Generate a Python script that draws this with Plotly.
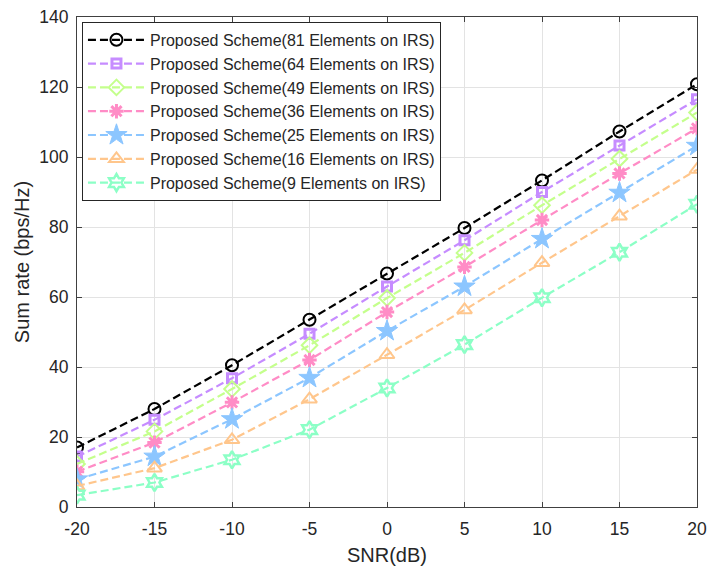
import plotly.graph_objects as go

snr = [-20, -15, -10, -5, 0, 5, 10, 15, 20]
snr_labels = ["-20", "-15", "-10", "-5", "0", "5", "10", "15", "20"]
rate_ticks = [0, 20, 40, 60, 80, 100, 120, 140]

rate_81 = [17.0, 28.0, 40.5, 53.5, 66.7, 79.7, 93.3, 107.3, 120.8]
rate_64 = [14.4, 24.9, 36.8, 49.5, 63.0, 76.2, 90.0, 103.3, 116.5]
rate_49 = [12.3, 21.6, 33.7, 46.2, 59.7, 72.6, 86.2, 99.5, 112.7]
rate_36 = [10.1, 18.4, 29.9, 42.0, 55.7, 68.6, 82.0, 95.3, 108.2]
rate_25 = [7.9, 14.4, 25.1, 36.9, 50.3, 63.0, 76.6, 89.8, 103.2]
rate_16 = [6.0, 11.1, 19.2, 30.8, 43.5, 56.3, 69.8, 83.1, 96.4]
rate_9 = [3.4, 7.0, 13.5, 22.1, 34.0, 46.4, 59.8, 72.8, 86.5]

names = [
    "Proposed Scheme(81 Elements on IRS)",
    "Proposed Scheme(64 Elements on IRS)",
    "Proposed Scheme(49 Elements on IRS)",
    "Proposed Scheme(36 Elements on IRS)",
    "Proposed Scheme(25 Elements on IRS)",
    "Proposed Scheme(16 Elements on IRS)",
    "Proposed Scheme(9 Elements on IRS)",
]
series = [rate_81, rate_64, rate_49, rate_36, rate_25, rate_16, rate_9]
colors = ["#000000", "#C68CFF", "#C4FF8C", "#FF8CC6", "#8CC6FF", "#FFC68C", "#8CFFC6"]
symbols = ["circle-open", "square-open", "diamond-open", "asterisk-open",
           "star", "triangle-up-open", "hexagram-open"]
sizes = [12, 9, 12, 12, 16, 13, 13]
mwidth = [2, 3, 2, 3, 1, 2, 2.5]

fig = go.Figure()
for name, y, c, s, sz, mw in zip(names, series, colors, symbols, sizes, mwidth):
    fig.add_trace(go.Scatter(
        x=snr, y=y, name=name, mode="lines+markers",
        line=dict(color=c, width=2.2, dash="8px,4px"),
        marker=dict(symbol=s, size=sz, color=c, line=dict(color=c, width=mw)),
    ))

axis_common = dict(
    showline=True, linecolor="#404040", linewidth=1, mirror="ticks",
    ticks="inside", ticklen=5, tickcolor="#404040",
    showgrid=True, gridcolor="#e3e3e3", gridwidth=1, zeroline=False,
    tickfont=dict(size=17.5, color="#262626"), automargin=False,
)

fig.update_layout(
    width=709, height=566,
    margin=dict(l=77, r=12, t=17, b=59),
    paper_bgcolor="white", plot_bgcolor="white",
    font=dict(family="Liberation Sans, Arial, sans-serif", size=17.5, color="#262626"),
    xaxis=dict(range=[-20, 20], tickvals=snr, ticktext=snr_labels, ticklabelstandoff=6,
               title=dict(text="SNR(dB)", standoff=9, font=dict(size=20, color="#262626")),
               **axis_common),
    yaxis=dict(range=[0, 140], tickvals=rate_ticks, ticktext=[str(v) for v in rate_ticks],
               ticklabelstandoff=4,
               title=dict(text="Sum rate (bps/Hz)", standoff=4, font=dict(size=20, color="#262626")),
               **axis_common),
    legend=dict(x=0.008, y=0.99, xanchor="left", yanchor="top",
                bgcolor="white", bordercolor="#262626", borderwidth=1,
                font=dict(size=16, color="#262626"), itemwidth=57,
                tracegroupgap=0),
    showlegend=True,
)

# remove the default page margin so the figure fills the window exactly
fig.write_html("out.html", config={"displayModeBar": False},
               post_script="document.body.style.margin='0';document.body.style.overflow='hidden';")
